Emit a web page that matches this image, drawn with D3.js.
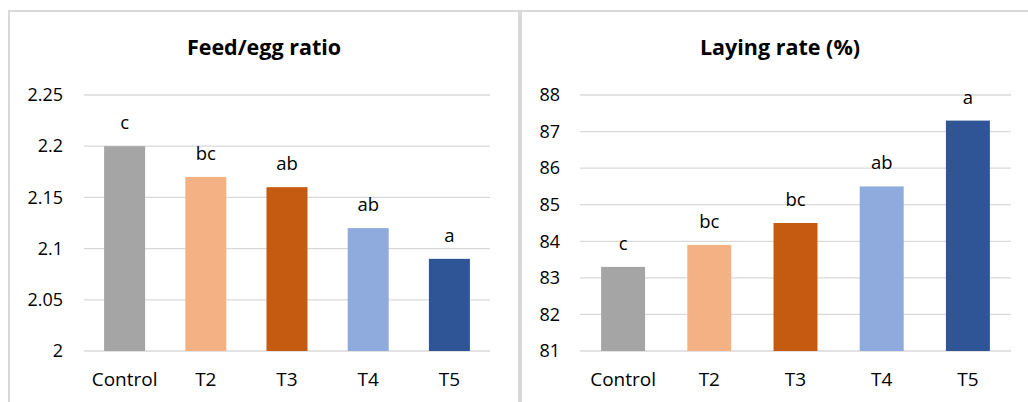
<!DOCTYPE html>
<html><head><meta charset="utf-8">
<script src="https://cdn.jsdelivr.net/npm/d3@7"></script>
<style>html,body{margin:0;padding:0;background:#fff;}svg{display:block;}</style>
</head><body>
<svg id="c" width="1028" height="402"></svg>
<script>
const categories = ["Control", "T2", "T3", "T4", "T5"];
const colors = ["#A5A5A5", "#F4B183", "#C55A11", "#8FAADC", "#2F5597"];

const feedTitle = "Feed/egg ratio";
const feedValues = [2.20, 2.17, 2.16, 2.12, 2.09];
const feedLetters = ["c", "bc", "ab", "ab", "a"];
const feedTicks = [2, 2.05, 2.1, 2.15, 2.2, 2.25];
const feedDomain = [2, 2.25];

const layTitle = "Laying rate (%)";
const layValues = [83.3, 83.9, 84.5, 85.5, 87.3];
const layLetters = ["c", "bc", "bc", "ab", "a"];
const layTicks = [81, 82, 83, 84, 85, 86, 87, 88];
const layDomain = [81, 88];

const svg = d3.select("#c");
const font = "'Open Sans', sans-serif";
const grid = "#D9D9D9";

// panel borders
svg.append("line").attr("x1", 8).attr("x2", 1028).attr("y1", 11).attr("y2", 11)
  .attr("stroke", grid).attr("stroke-width", 2);
svg.append("line").attr("x1", 9).attr("x2", 9).attr("y1", 10).attr("y2", 402)
  .attr("stroke", grid).attr("stroke-width", 2);
svg.append("line").attr("x1", 520).attr("x2", 520).attr("y1", 10).attr("y2", 402)
  .attr("stroke", grid).attr("stroke-width", 4);

function panel(opts) {
  const g = svg.append("g");
  const x = d3.scaleBand().domain(categories).range([opts.x0, opts.x1])
    .paddingInner(opts.pad).paddingOuter(opts.pad / 2);
  const y = d3.scaleLinear().domain(opts.domain).range([351, 95]);

  // title
  g.append("text").attr("x", opts.titleX).attr("y", 55)
    .attr("text-anchor", "middle").attr("font-family", font)
    .attr("font-weight", "bold").attr("font-size", 21.5).attr("fill", "#000")
    .text(opts.title);

  // gridlines
  g.selectAll(".grid").data(opts.ticks).enter().append("line")
    .attr("x1", opts.x0).attr("x2", opts.x1)
    .attr("y1", d => y(d)).attr("y2", d => y(d))
    .attr("stroke", grid).attr("stroke-width", 1.3);

  // y axis labels
  const yAxis = d3.axisLeft(y).tickValues(opts.ticks).tickSize(0).tickPadding(0)
    .tickFormat(d => String(+d.toFixed(2)));
  const ya = g.append("g").attr("transform", `translate(${opts.tickX},0)`).call(yAxis);
  ya.select(".domain").remove();
  ya.selectAll("text").attr("font-family", font).attr("font-size", 18).attr("fill", "#000");

  // bars
  g.selectAll(".bar").data(opts.values).enter().append("rect")
    .attr("x", (d, i) => x(categories[i]))
    .attr("width", x.bandwidth())
    .attr("y", d => y(d))
    .attr("height", d => y(opts.domain[0]) - y(d))
    .attr("fill", (d, i) => colors[i]);

  // letters
  g.selectAll(".lbl").data(opts.values).enter().append("text")
    .attr("x", (d, i) => x(categories[i]) + x.bandwidth() / 2)
    .attr("y", d => y(d) - 17)
    .attr("text-anchor", "middle").attr("font-family", font)
    .attr("font-size", 18.5).attr("fill", "#000")
    .text((d, i) => opts.letters[i]);

  // x axis labels
  const xAxis = d3.axisBottom(x).tickSize(0).tickPadding(0);
  const xa = g.append("g").attr("transform", "translate(0,351)").call(xAxis);
  xa.select(".domain").remove();
  xa.selectAll("text").attr("dy", null).attr("y", 35)
    .attr("font-family", font).attr("font-size", 19).attr("fill", "#000");
}

panel({ x0: 84, x1: 490, pad: 0.495, domain: feedDomain, ticks: feedTicks,
  values: feedValues, letters: feedLetters, title: feedTitle, titleX: 264, tickX: 63 });
panel({ x0: 580, x1: 1011, pad: 0.49, domain: layDomain, ticks: layTicks,
  values: layValues, letters: layLetters, title: layTitle, titleX: 780, tickX: 560 });
</script>
</body></html>
